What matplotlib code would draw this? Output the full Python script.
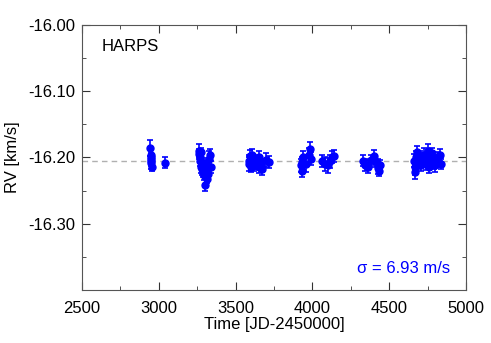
import numpy as np
import matplotlib.pyplot as plt

plt.rcParams['font.family'] = ['Liberation Sans', 'DejaVu Sans']

# HARPS radial velocities (JD-2450000, km/s)
times = [2945, 2947, 2949, 2950, 2951, 2952, 2953,
         3040,
         3262, 3265, 3268, 3270, 3272, 3275, 3280, 3285, 3290, 3295, 3300,
         3305, 3310, 3315, 3320, 3330, 3335, 3340,
         3585, 3590, 3595, 3600, 3605, 3610, 3615, 3620, 3640, 3645, 3650,
         3655, 3660, 3665, 3670, 3700, 3715,
         3925, 3930, 3935, 3940, 3960, 3975, 3985, 3990,
         4065, 4080, 4100, 4115, 4130, 4140,
         4330, 4345, 4360, 4380, 4400, 4410, 4425, 4430, 4435, 4440,
         4660, 4665, 4670, 4675, 4680, 4690, 4700, 4710, 4720, 4730, 4740,
         4750, 4755, 4760, 4770, 4780, 4790, 4800, 4820, 4830, 4840]
rv = [-16.186, -16.196, -16.200, -16.203, -16.206, -16.209, -16.214,
      -16.208,
      -16.190, -16.195, -16.200, -16.205, -16.192, -16.215, -16.218, -16.222,
      -16.208, -16.226, -16.242, -16.220, -16.212, -16.232, -16.225, -16.202,
      -16.196, -16.214,
      -16.205, -16.210, -16.198, -16.214, -16.202, -16.196, -16.208, -16.212,
      -16.204, -16.210, -16.215, -16.200, -16.206, -16.212, -16.218, -16.204,
      -16.207,
      -16.212, -16.220, -16.207, -16.200, -16.210, -16.196, -16.188, -16.202,
      -16.205, -16.210, -16.212, -16.206, -16.200, -16.198,
      -16.205, -16.212, -16.214, -16.204, -16.198, -16.206, -16.210, -16.216,
      -16.220, -16.212,
      -16.205, -16.215, -16.222, -16.200, -16.192, -16.208, -16.198, -16.212,
      -16.203, -16.196, -16.210, -16.190, -16.205, -16.215, -16.200, -16.194,
      -16.208, -16.212, -16.200, -16.196, -16.210]
err = [0.012, 0.008, 0.007, 0.008, 0.007, 0.008, 0.006,
       0.008,
       0.010, 0.008, 0.007, 0.008, 0.007, 0.008, 0.009, 0.008, 0.007, 0.008,
       0.009, 0.010, 0.008, 0.007, 0.010, 0.012, 0.008, 0.009,
       0.008, 0.010, 0.009, 0.008, 0.007, 0.008, 0.010, 0.009, 0.008, 0.007,
       0.009, 0.010, 0.008, 0.007, 0.008, 0.010, 0.009,
       0.010, 0.009, 0.008, 0.010, 0.012, 0.011, 0.012, 0.010,
       0.009, 0.010, 0.011, 0.010, 0.009, 0.009,
       0.008, 0.009, 0.010, 0.008, 0.009, 0.009, 0.008, 0.009, 0.008, 0.008,
       0.010, 0.012, 0.011, 0.010, 0.009, 0.010, 0.008, 0.009, 0.010, 0.011,
       0.009, 0.010, 0.008, 0.009, 0.010, 0.008, 0.009, 0.010, 0.008, 0.009,
       0.008]
mean_rv = -16.2055
sigma_text = '\u03c3 = 6.93 m/s'

fig = plt.figure(figsize=(4.91, 3.43), dpi=100)
ax = fig.add_axes([0.167, 0.155, 0.782, 0.772])

ax.axhline(mean_rv, color='#b0b0b0', ls=(0, (4, 3)), lw=1, zorder=1)
ax.errorbar(times, rv, yerr=err, fmt='o', color='#0000ff', ms=5,
            capsize=2.5, elinewidth=1.2, capthick=1.2, zorder=2)

ax.set_xlim(2500, 5000)
ax.set_ylim(-16.40, -16.00)
ax.set_xticks([2500, 3000, 3500, 4000, 4500, 5000])
ax.set_xticks(np.arange(2500, 5001, 250), minor=True)
ax.set_yticks([-16.30, -16.20, -16.10, -16.00])
ax.set_yticklabels(['-16.30', '-16.20', '-16.10', '-16.00'])
ax.set_yticks(np.arange(-16.40, -15.99, 0.05), minor=True)
ax.tick_params(which='both', direction='in', top=True, right=True,
               labelsize=12, color='#333333')
ax.tick_params(which='major', length=6)
ax.tick_params(which='minor', length=3)
ax.tick_params(axis='x', pad=8)
ax.tick_params(axis='y', pad=5)
for s in ax.spines.values():
    s.set_color('#555555')

ax.set_xlabel('Time [JD-2450000]', fontsize=12, labelpad=1)
ax.set_ylabel('RV [km/s]', fontsize=12, labelpad=6)
ax.text(0.05, 0.92, 'HARPS', transform=ax.transAxes, fontsize=12,
        va='center', ha='left')
ax.text(0.96, 0.08, sigma_text, transform=ax.transAxes, fontsize=12,
        color='#0000ff', va='center', ha='right')

fig.savefig('out.png', dpi=100)
